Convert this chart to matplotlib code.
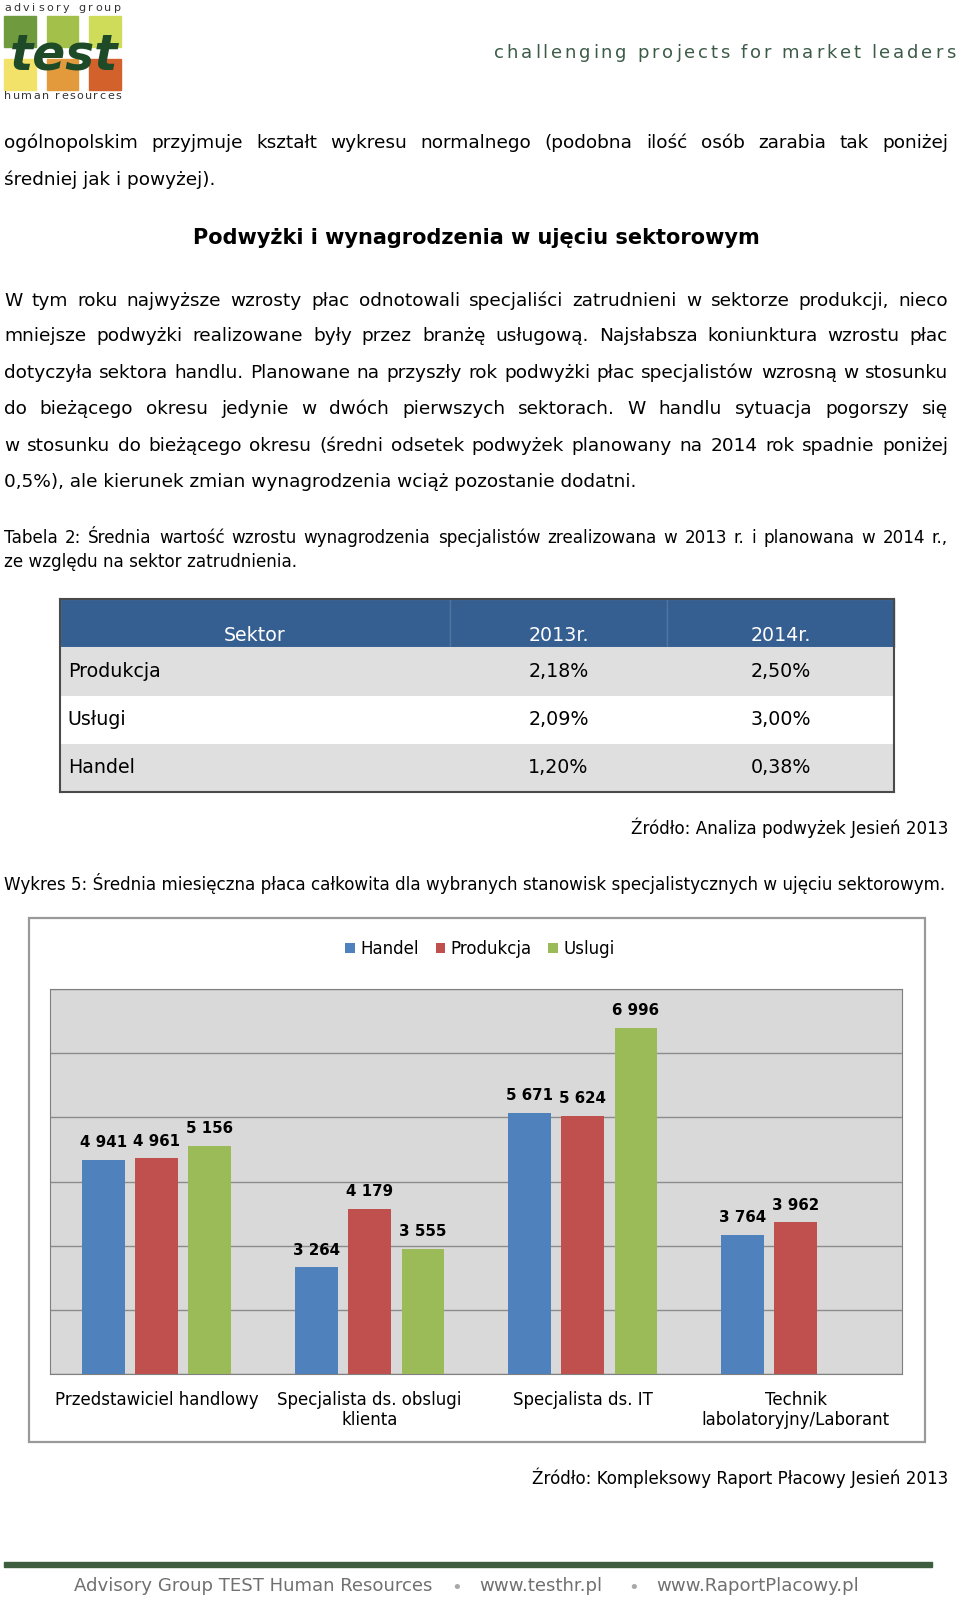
import numpy as np
import matplotlib
matplotlib.use("Agg")
import matplotlib.pyplot as plt
from matplotlib.patches import Rectangle
from matplotlib.transforms import Affine2D

W, H = 960, 1603

# tabela 2
table_header = ["Sektor", "2013r.", "2014r."]
sectors = ["Produkcja", "Usługi", "Handel"]
rise_2013 = [2.18, 2.09, 1.20]
rise_2014 = [2.50, 3.00, 0.38]

# wykres 5
jobs = ["Przedstawiciel handlowy", "Specjalista ds. obslugi\nklienta",
        "Specjalista ds. IT", "Technik\nlabolatoryjny/Laborant"]
series_names = ["Handel", "Produkcja", "Uslugi"]
handel = [4941, 3264, 5671, 3764]
produkcja = [4961, 4179, 5624, 3962]
uslugi = [5156, 3555, 6996, np.nan]
y_min, y_max, y_step = 1600, 7600, 1000

para1 = ["ogólnopolskim przyjmuje kształt wykresu normalnego (podobna ilość osób zarabia tak poniżej",
         "średniej jak i powyżej)."]
heading = "Podwyżki i wynagrodzenia w ujęciu sektorowym"
para2 = ["W tym roku najwyższe wzrosty płac odnotowali specjaliści zatrudnieni w sektorze produkcji, nieco",
         "mniejsze podwyżki realizowane były przez branżę usługową. Najsłabsza koniunktura wzrostu płac",
         "dotyczyła sektora handlu. Planowane na przyszły rok podwyżki płac specjalistów wzrosną w stosunku",
         "do bieżącego okresu jedynie w dwóch pierwszych sektorach. W handlu sytuacja pogorszy się",
         "w stosunku do bieżącego okresu (średni odsetek podwyżek planowany na 2014 rok spadnie poniżej",
         "0,5%), ale kierunek zmian wynagrodzenia wciąż pozostanie dodatni."]
caption1 = ["Tabela 2: Średnia wartość wzrostu wynagrodzenia specjalistów zrealizowana w 2013 r. i planowana w 2014 r.,",
            "ze względu na sektor zatrudnienia."]
source1 = "Źródło: Analiza podwyżek Jesień 2013"
caption2 = "Wykres 5: Średnia miesięczna płaca całkowita dla wybranych stanowisk specjalistycznych w ujęciu sektorowym."
source2 = "Źródło: Kompleksowy Raport Płacowy Jesień 2013"
footer = ["Advisory Group TEST Human Resources", "www.testhr.pl", "www.RaportPlacowy.pl"]

plt.rcParams["font.family"] = "DejaVu Sans"
fig = plt.figure(figsize=(W / 100, H / 100), dpi=100)
renderer = fig.canvas.get_renderer()


def fx(x):
    return x / W


def fy(y):
    return 1 - y / H


def put(s, x, y, size, ha="left", **kw):
    return fig.text(fx(x), fy(y), s, fontsize=size, ha=ha, va="center", **kw)


def width_px(t):
    return t.get_window_extent(renderer).width


def fit(s, target, weight="normal", style="normal"):
    t = fig.text(0, 0, s, fontsize=10, fontweight=weight, fontstyle=style)
    w = width_px(t)
    t.remove()
    return 10 * target / w


def justify(s, y, size, x0=4, x1=948, **kw):
    words = s.split()
    texts = [put(w, x0, y, size, **kw) for w in words]
    widths = [width_px(t) for t in texts]
    gap = (x1 - x0 - sum(widths)) / (len(words) - 1)
    x = x0
    for t, w in zip(texts, widths):
        t.set_x(fx(x))
        x += w + gap


def spaced(s, y, size, x0, x1, **kw):
    texts, widths = [], []
    for ch in s:
        if ch == " ":
            texts.append(None)
            widths.append(size * 100 / 72 * 0.3)
        else:
            t = put(ch, x0, y, size, **kw)
            texts.append(t)
            widths.append(width_px(t))
    gap = (x1 - x0 - sum(widths)) / (len(s) - 1)
    x = x0
    for t, w in zip(texts, widths):
        if t is not None:
            t.set_x(fx(x))
        x += w + gap


# naglowek strony
logo_colors = [["#6f9a3e", "#a2c04a", "#cfdc5a"], ["#f2e26a", "#e39a3c", "#d2612b"]]
for r, row in enumerate(logo_colors):
    for c, col in enumerate(row):
        fig.add_artist(Rectangle((fx(4 + c * 42.7), fy(47.3 + r * 42.7)), 31.5 / W, 31.5 / H,
                                 color=col, transform=fig.transFigure))
put("test", 10, 56, fit("test", 108, "bold", "italic"), fontweight="bold", fontstyle="italic",
    color="#1e4a28")
spaced("advisory group", 8, 8, 4, 121, color="#333333")
spaced("human resources", 96, 8, 4, 121, color="#333333")
spaced("challenging projects for market leaders", 53, 13, 494, 955, color="#3b5b47")

# tekst
body = fit(para2[-1], 635)
justify(para1[0], 143, body)
put(para1[1], 4, 180, body)
put(heading, 476, 238, fit(heading, 566, "bold"), ha="center", fontweight="bold")
ys = [300.6, 336.4, 373.2, 409, 445.8, 481.6]
for line, y in zip(para2[:-1], ys[:-1]):
    justify(line, y, body)
put(para2[-1], 4, ys[-1], body)

cap = fit(caption2, 941)
justify(caption1[0], 537.8, cap)
put(caption1[1], 4, 562.3, cap)
put(source1, 948, 828, fit(source1, 318), ha="right")
put(caption2, 4, 883, cap)
put(source2, 948, 1478, fit(source2, 417), ha="right")

# tabela
ax_t = fig.add_axes([fx(60), fy(792), (894 - 60) / W, (792 - 599) / H])
ax_t.set_xticks([])
ax_t.set_yticks([])
ax_t.set_facecolor("none")
for sp in ax_t.spines.values():
    sp.set_color("#4a4a4a")
    sp.set_linewidth(1.5)
rows = [[s, f"{a:.2f}%".replace(".", ","), f"{b:.2f}%".replace(".", ",")]
        for s, a, b in zip(sectors, rise_2013, rise_2014)]
col_w = np.array([390, 217, 227]) / 834
tab = ax_t.table(cellText=rows, colLabels=table_header, colWidths=list(col_w),
                 cellLoc="center", bbox=[0, 0, 1, 1])
tab.auto_set_font_size(False)
tab.set_fontsize(fit("Produkcja", 93))
row_colors = ["#dfdfdf", "white", "#dfdfdf"]
for (r, c), cell in tab.get_celld().items():
    if r == 0:
        cell.set_facecolor("#365f91")
        cell.set_edgecolor("#4d74a5")
        cell.get_text().set_color("white")
        # tekst naglowka nizej w komorce
        cell.get_text().set_transform(Affine2D().translate(0, -12))
    else:
        cell.set_facecolor(row_colors[r - 1])
        cell.set_edgecolor(row_colors[r - 1])
        cell.set_linewidth(0)
        if c == 0:
            cell.get_text().set_ha("left")
            cell.PAD = 0.02

# wykres
fig.add_artist(Rectangle((fx(29), fy(1442)), (925 - 29) / W, (1442 - 918) / H,
                         fill=False, edgecolor="#9a9a9a", lw=1.6, transform=fig.transFigure))
ax = fig.add_axes([fx(50), fy(1374), 852.3 / W, 385 / H])
x = np.arange(len(jobs))
colors = ["#4f81bd", "#c0504d", "#9bbb59"]
handles = []
for off, vals, color, name in zip([-0.25, 0, 0.25], [handel, produkcja, uslugi], colors, series_names):
    vals = np.array(vals, dtype=float)
    ok = ~np.isnan(vals)
    bars = ax.bar(x[ok] + off, vals[ok], 0.2, bottom=0, color=color, label=name, zorder=3)
    ax.bar_label(bars, labels=[f"{v:,.0f}".replace(",", " ") for v in vals[ok]],
                 padding=7, fontsize=10.8, fontweight="bold")
    handles.append(bars)
ax.set_xlim(-0.5, 3.5)
ax.set_ylim(y_min, y_max)
ax.set_yticks(np.arange(y_min, y_max + 1, y_step))
ax.set_yticklabels([])
ax.yaxis.grid(True, color="#8c8c8c", lw=1)
ax.set_axisbelow(True)
ax.set_facecolor("#d9d9d9")
for sp in ax.spines.values():
    sp.set_color("#7f7f7f")
ax.set_xticks(x, jobs, fontsize=12, linespacing=1.2)
ax.tick_params(length=0, pad=12)
fig.legend(handles, series_names, loc="center", bbox_to_anchor=(fx(480), fy(949)), ncol=3,
           frameon=False, fontsize=12, handlelength=0.55, handleheight=0.55,
           handletextpad=0.35, columnspacing=1.0)

# stopka
fig.add_artist(Rectangle((fx(4), fy(1567)), 928 / W, 5 / H, color="#3d5e3f",
                         transform=fig.transFigure))
fsize = fit(footer[0], 359)
put(footer[0], 74, 1586, fsize, color="#707070")
put("•", 457, 1588, 13, ha="center", color="#a8a8a8")
put(footer[1], 479, 1586, fsize, color="#707070")
put("•", 634, 1588, 13, ha="center", color="#a8a8a8")
put(footer[2], 656, 1586, fsize, color="#707070")

fig.savefig("out.png", dpi=100)
